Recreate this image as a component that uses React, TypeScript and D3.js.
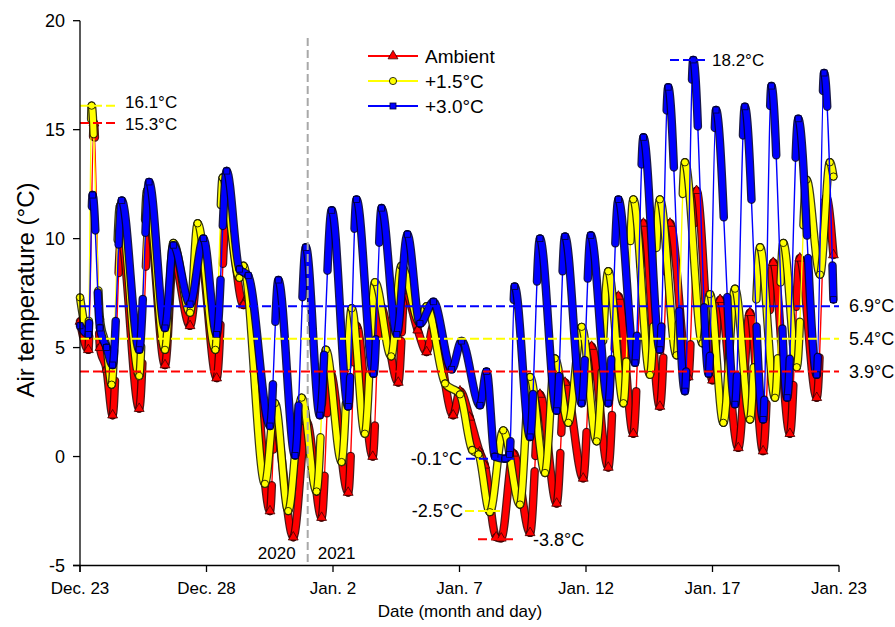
import React from 'react';
import * as d3 from 'd3';

// [day since Dec. 23, temperature °C] read at peaks / troughs
const ambient: [number, number][] = [
  [0, 6.2], [0.33, 4.9], [0.55, 15.3], [0.79, 5.0], [1.05, 4.0], [1.29, 1.9],
  [1.62, 10.0], [2.34, 2.2], [2.73, 10.8], [3.36, 4.2], [3.69, 9.1], [4.35, 6.0],
  [4.75, 9.3], [5.4, 3.6], [5.8, 11.3], [6.46, 6.95], [6.65, 7.3], [7.51, -2.5],
  [7.71, 1.5], [8.43, -3.7], [8.96, 1.6], [9.55, -2.8], [9.88, 3.9], [10.6, -1.65],
  [10.93, 6.0], [11.57, 0.0], [11.86, 6.95], [12.58, 3.4], [12.84, 7.6], [13.35, 5.8],
  [13.7, 4.8], [13.97, 6.0], [14.75, 1.9], [15.02, 3.0], [15.4, 1.8], [15.8, 0.2],
  [16.0, -0.4], [16.45, -3.7], [16.65, -3.75], [17.13, 0.15], [17.79, -3.5], [18.18, 2.85],
  [18.84, -2.15], [19.17, 3.4], [19.89, -1.0], [20.22, 5.05], [20.88, -0.5], [21.28, 7.35],
  [21.87, 1.05], [22.27, 10.7], [22.92, 2.3], [23.32, 10.7], [24.04, 3.65], [24.37, 12.2],
  [25.0, 3.5], [25.3, 7.2], [26.02, 0.4], [26.48, 6.6], [27.0, 0.25], [27.4, 8.9],
  [28.06, 1.05], [28.45, 9.1], [29.12, 2.7], [29.5, 11.9], [29.78, 9.25],
];

const plus15: [number, number][] = [
  [0, 7.3], [0.33, 5.6], [0.46, 16.1], [0.79, 6.3], [1.05, 5.0], [1.25, 3.3],
  [1.58, 11.5], [2.34, 3.7], [2.65, 12.2], [3.36, 4.9], [3.69, 9.8], [4.35, 6.6],
  [4.65, 10.7], [5.35, 4.9], [5.64, 12.8], [6.3, 8.2], [6.46, 8.75], [7.31, -1.25],
  [7.71, 2.45], [8.23, -2.5], [8.76, 2.7], [9.35, -1.6], [9.72, 4.9], [10.34, -0.25],
  [10.74, 6.8], [11.26, 1.05], [11.66, 8.0], [12.3, 4.6], [12.7, 8.75], [13.44, 6.1],
  [13.7, 6.9], [14.43, 3.35], [15.02, 2.85], [15.5, 0.3], [15.75, 0.1], [16.2, -2.55],
  [16.73, 1.2], [17.39, -2.2], [17.79, 3.65], [18.38, -0.75], [18.77, 4.5], [19.3, 1.55],
  [19.83, 5.95], [20.42, 0.7], [20.88, 8.5], [21.48, 2.45], [21.87, 11.8], [22.53, 3.75],
  [22.92, 11.8], [23.58, 4.65], [23.91, 13.5], [24.6, 5.2], [24.9, 7.45], [25.43, 1.55],
  [25.89, 7.7], [26.48, 1.7], [26.88, 9.6], [27.47, 2.7], [27.8, 9.8], [28.33, 4.1],
  [28.72, 12.7], [29.25, 8.35], [29.64, 13.5], [29.78, 12.85],
];

const plus30: [number, number][] = [
  [0, 6.0], [0.33, 5.6], [0.5, 12.0], [0.79, 5.9], [1.05, 5.0], [1.29, 4.2],
  [1.65, 11.75], [2.34, 4.9], [2.73, 12.6], [3.36, 5.9], [3.69, 9.7], [4.35, 7.0],
  [4.88, 10.0], [5.4, 5.6], [5.8, 13.1], [6.3, 8.6], [6.65, 8.3], [7.51, 1.4],
  [7.84, 8.1], [8.5, 0.05], [8.93, 9.6], [9.48, 1.9], [9.95, 11.3], [10.6, 2.3],
  [10.93, 11.8], [11.6, 3.8], [11.92, 11.4], [12.52, 5.6], [12.94, 10.2], [13.44, 6.1],
  [13.97, 7.1], [14.69, 4.0], [15.08, 5.3], [15.81, 2.35], [16.07, 3.9], [16.4, 0.0],
  [16.8, -0.1], [16.98, 0.1], [17.18, 7.8], [17.79, 0.9], [18.18, 10.0], [18.84, 2.1],
  [19.17, 10.1], [19.83, 2.45], [20.19, 10.15], [20.88, 2.45], [21.28, 11.8], [21.94, 4.3],
  [22.27, 14.65], [22.92, 4.9], [23.25, 16.95], [23.91, 3.0], [24.24, 18.2], [24.85, 3.8],
  [25.14, 15.9], [25.89, 2.4], [26.28, 16.05], [27.0, 1.7], [27.33, 17.0], [27.95, 2.7],
  [28.39, 15.5], [29.12, 3.75], [29.41, 17.6], [29.78, 7.2],
];

const xTickDays = [0, 5, 10, 15, 20, 25, 30];
const xTickLabels = ['Dec. 23', 'Dec. 28', 'Jan. 2', 'Jan. 7', 'Jan. 12', 'Jan. 17', 'Jan. 23'];
const yTicks = [-5, 0, 5, 10, 15, 20];
const seriesNames = ['Ambient', '+1.5°C', '+3.0°C'];
const meanTemps = [3.9, 5.4, 6.9];
const maxTemps = [15.3, 16.1, 18.2];
const minTemps = [-3.8, -2.5, -0.1];
const yearDay = 9;

const W = 895;
const H = 627;
const font = '"Liberation Sans", Arial, sans-serif';

const colors = ['#ff0000', '#ffff00', '#0000ff'];
const edge = ['#3a0000', '#222200', '#000033'];

export default function App() {
  const x = d3.scaleLinear().domain([0, 30]).range([80, 839]);
  const y = d3.scaleLinear().domain([-5, 20]).range([565.5, 20.7]);
  const line = d3.line<[number, number]>()
    .curve(d3.curveMonotoneX)
    .x((d) => x(d[0]))
    .y((d) => y(d[1]));

  // split the monotone curve into one path per data interval
  const pieces = (s: [number, number][]) => {
    const out: string[] = [];
    let px = 0, py = 0;
    const ctx: any = {
      moveTo(a: number, b: number) { px = a; py = b; },
      lineTo(a: number, b: number) { out.push(`M${px},${py}L${a},${b}`); px = a; py = b; },
      bezierCurveTo(a: number, b: number, c: number, d: number, e: number, f: number) {
        out.push(`M${px},${py}C${a},${b},${c},${d},${e},${f}`); px = e; py = f;
      },
      closePath() {},
    };
    d3.line<[number, number]>().curve(d3.curveMonotoneX).x((d) => x(d[0])).y((d) => y(d[1])).context(ctx)(s);
    return out;
  };

  // hourly readings crowd into a band where the curve is slow, thin out where it is steep
  const bandShare = (a: [number, number], b: [number, number]) => {
    const hours = (b[0] - a[0]) * 24;
    const len = Math.hypot(x(b[0]) - x(a[0]), y(b[1]) - y(a[1]));
    const s = len / hours;
    return s <= 14 ? 50 : Math.max(6, 50 * Math.pow(14 / s, 2));
  };

  const series = [ambient, plus15, plus30];
  const tri = d3.symbol(d3.symbolTriangle, 42)() as string;

  const marker = (i: number, cx: number, cy: number, key: string) => {
    if (i === 0) {
      return <path key={key} d={tri} transform={`translate(${cx},${cy})`} fill={colors[0]} stroke={edge[0]} strokeWidth={0.8} />;
    }
    if (i === 1) {
      return <circle key={key} cx={cx} cy={cy} r={3.6} fill={colors[1]} stroke="#000" strokeWidth={0.8} />;
    }
    return <rect key={key} x={cx - 3} y={cy - 3} width={6} height={6} fill={colors[2]} stroke={edge[2]} strokeWidth={0.8} />;
  };

  // short dashed lines marking the extremes, with their labels
  const maxX = [[80, 118, 125, 1], [80, 118, 125, -4], [670, 708, 712, 0]];
  const minX = [[478, 517, 533, 'start'], [465, 503, 463, 'end'], [466, 515, 462, 'end']];

  return (
    <svg width={W} height={H} style={{ position: 'absolute', left: 0, top: 0, background: '#fff' }} fontFamily={font}>
      {/* data */}
      {series.map((s, i) => {
        const segs = pieces(s);
        return (
          <g key={i}>
            <path d={line(s) as string} fill="none" stroke={colors[i]} strokeWidth={1.4} />
            {segs.map((p, j) => {
              const f = bandShare(s[j], s[j + 1]);
              const dash = `${f} ${100 - 2 * f} ${f} 0`;
              return (
                <g key={j}>
                  <path d={p} pathLength={100} fill="none" stroke={edge[i]} strokeWidth={8.5} strokeDasharray={dash} strokeLinecap="round" opacity={0.9} />
                  <path d={p} pathLength={100} fill="none" stroke={colors[i]} strokeWidth={6} strokeDasharray={dash} strokeLinecap="round" />
                </g>
              );
            })}
            {s.map((d, j) => marker(i, x(d[0]), y(d[1]), `m${i}-${j}`))}
          </g>
        );
      })}

      {/* year divider */}
      <line x1={x(yearDay)} x2={x(yearDay)} y1={38} y2={565.5} stroke="#a8a8a8" strokeWidth={2} strokeDasharray="8,4" />
      <text x={x(yearDay) - 12} y={559} fontSize={17} textAnchor="end">2020</text>
      <text x={x(yearDay) + 10} y={559} fontSize={17}>2021</text>

      {/* mean lines */}
      {meanTemps.map((m, i) => (
        <g key={`mean${i}`}>
          <line x1={x(0)} x2={x(30)} y1={y(m)} y2={y(m)} stroke={colors[i]} strokeWidth={2} strokeDasharray="9,4" />
          <text x={849} y={y(m)} dy="0.35em" fontSize={18}>{m.toFixed(1)}°C</text>
        </g>
      ))}

      {/* extremes */}
      {maxTemps.map((m, i) => (
        <g key={`max${i}`}>
          <line x1={maxX[i][0]} x2={maxX[i][1]} y1={y(m)} y2={y(m)} stroke={colors[i]} strokeWidth={2} strokeDasharray="9,4" />
          <text x={maxX[i][2]} y={y(m) + maxX[i][3]} dy="0.35em" fontSize={17}>{m.toFixed(1)}°C</text>
        </g>
      ))}
      {minTemps.map((m, i) => (
        <g key={`min${i}`}>
          <line x1={minX[i][0] as number} x2={minX[i][1] as number} y1={y(m)} y2={y(m)} stroke={colors[i]} strokeWidth={2} strokeDasharray="9,4" />
          <text x={minX[i][2] as number} y={y(m)} dy="0.35em" fontSize={18} textAnchor={minX[i][3] as string}>{m.toFixed(1)}°C</text>
        </g>
      ))}

      {/* axes */}
      <line x1={80} x2={80} y1={20.7} y2={572} stroke="#000" strokeWidth={1.3} />
      <line x1={73} x2={839} y1={565.5} y2={565.5} stroke="#000" strokeWidth={1.3} />
      {yTicks.map((t) => (
        <g key={`y${t}`}>
          <line x1={73} x2={80} y1={y(t)} y2={y(t)} stroke="#000" strokeWidth={1.3} />
          <text x={65} y={y(t)} dy="0.35em" fontSize={18} textAnchor="end">{t}</text>
        </g>
      ))}
      {xTickDays.map((t, i) => (
        <g key={`x${t}`}>
          <line x1={x(t)} x2={x(t)} y1={565.5} y2={572} stroke="#000" strokeWidth={1.3} />
          <text x={x(t)} y={594} fontSize={17} textAnchor="middle">{xTickLabels[i]}</text>
        </g>
      ))}
      <text x={460} y={617} fontSize={17} textAnchor="middle">Date (month and day)</text>
      <text transform="translate(34,290) rotate(-90)" fontSize={24} textAnchor="middle">Air temperature (°C)</text>

      {/* legend */}
      {seriesNames.map((n, i) => {
        const ly = 56 + i * 25;
        return (
          <g key={n}>
            <line x1={368} x2={418} y1={ly} y2={ly} stroke={colors[i]} strokeWidth={2} />
            {marker(i, 393, ly, `lg${i}`)}
            <text x={425} y={ly} dy="0.35em" fontSize={19}>{n}</text>
          </g>
        );
      })}
    </svg>
  );
}
